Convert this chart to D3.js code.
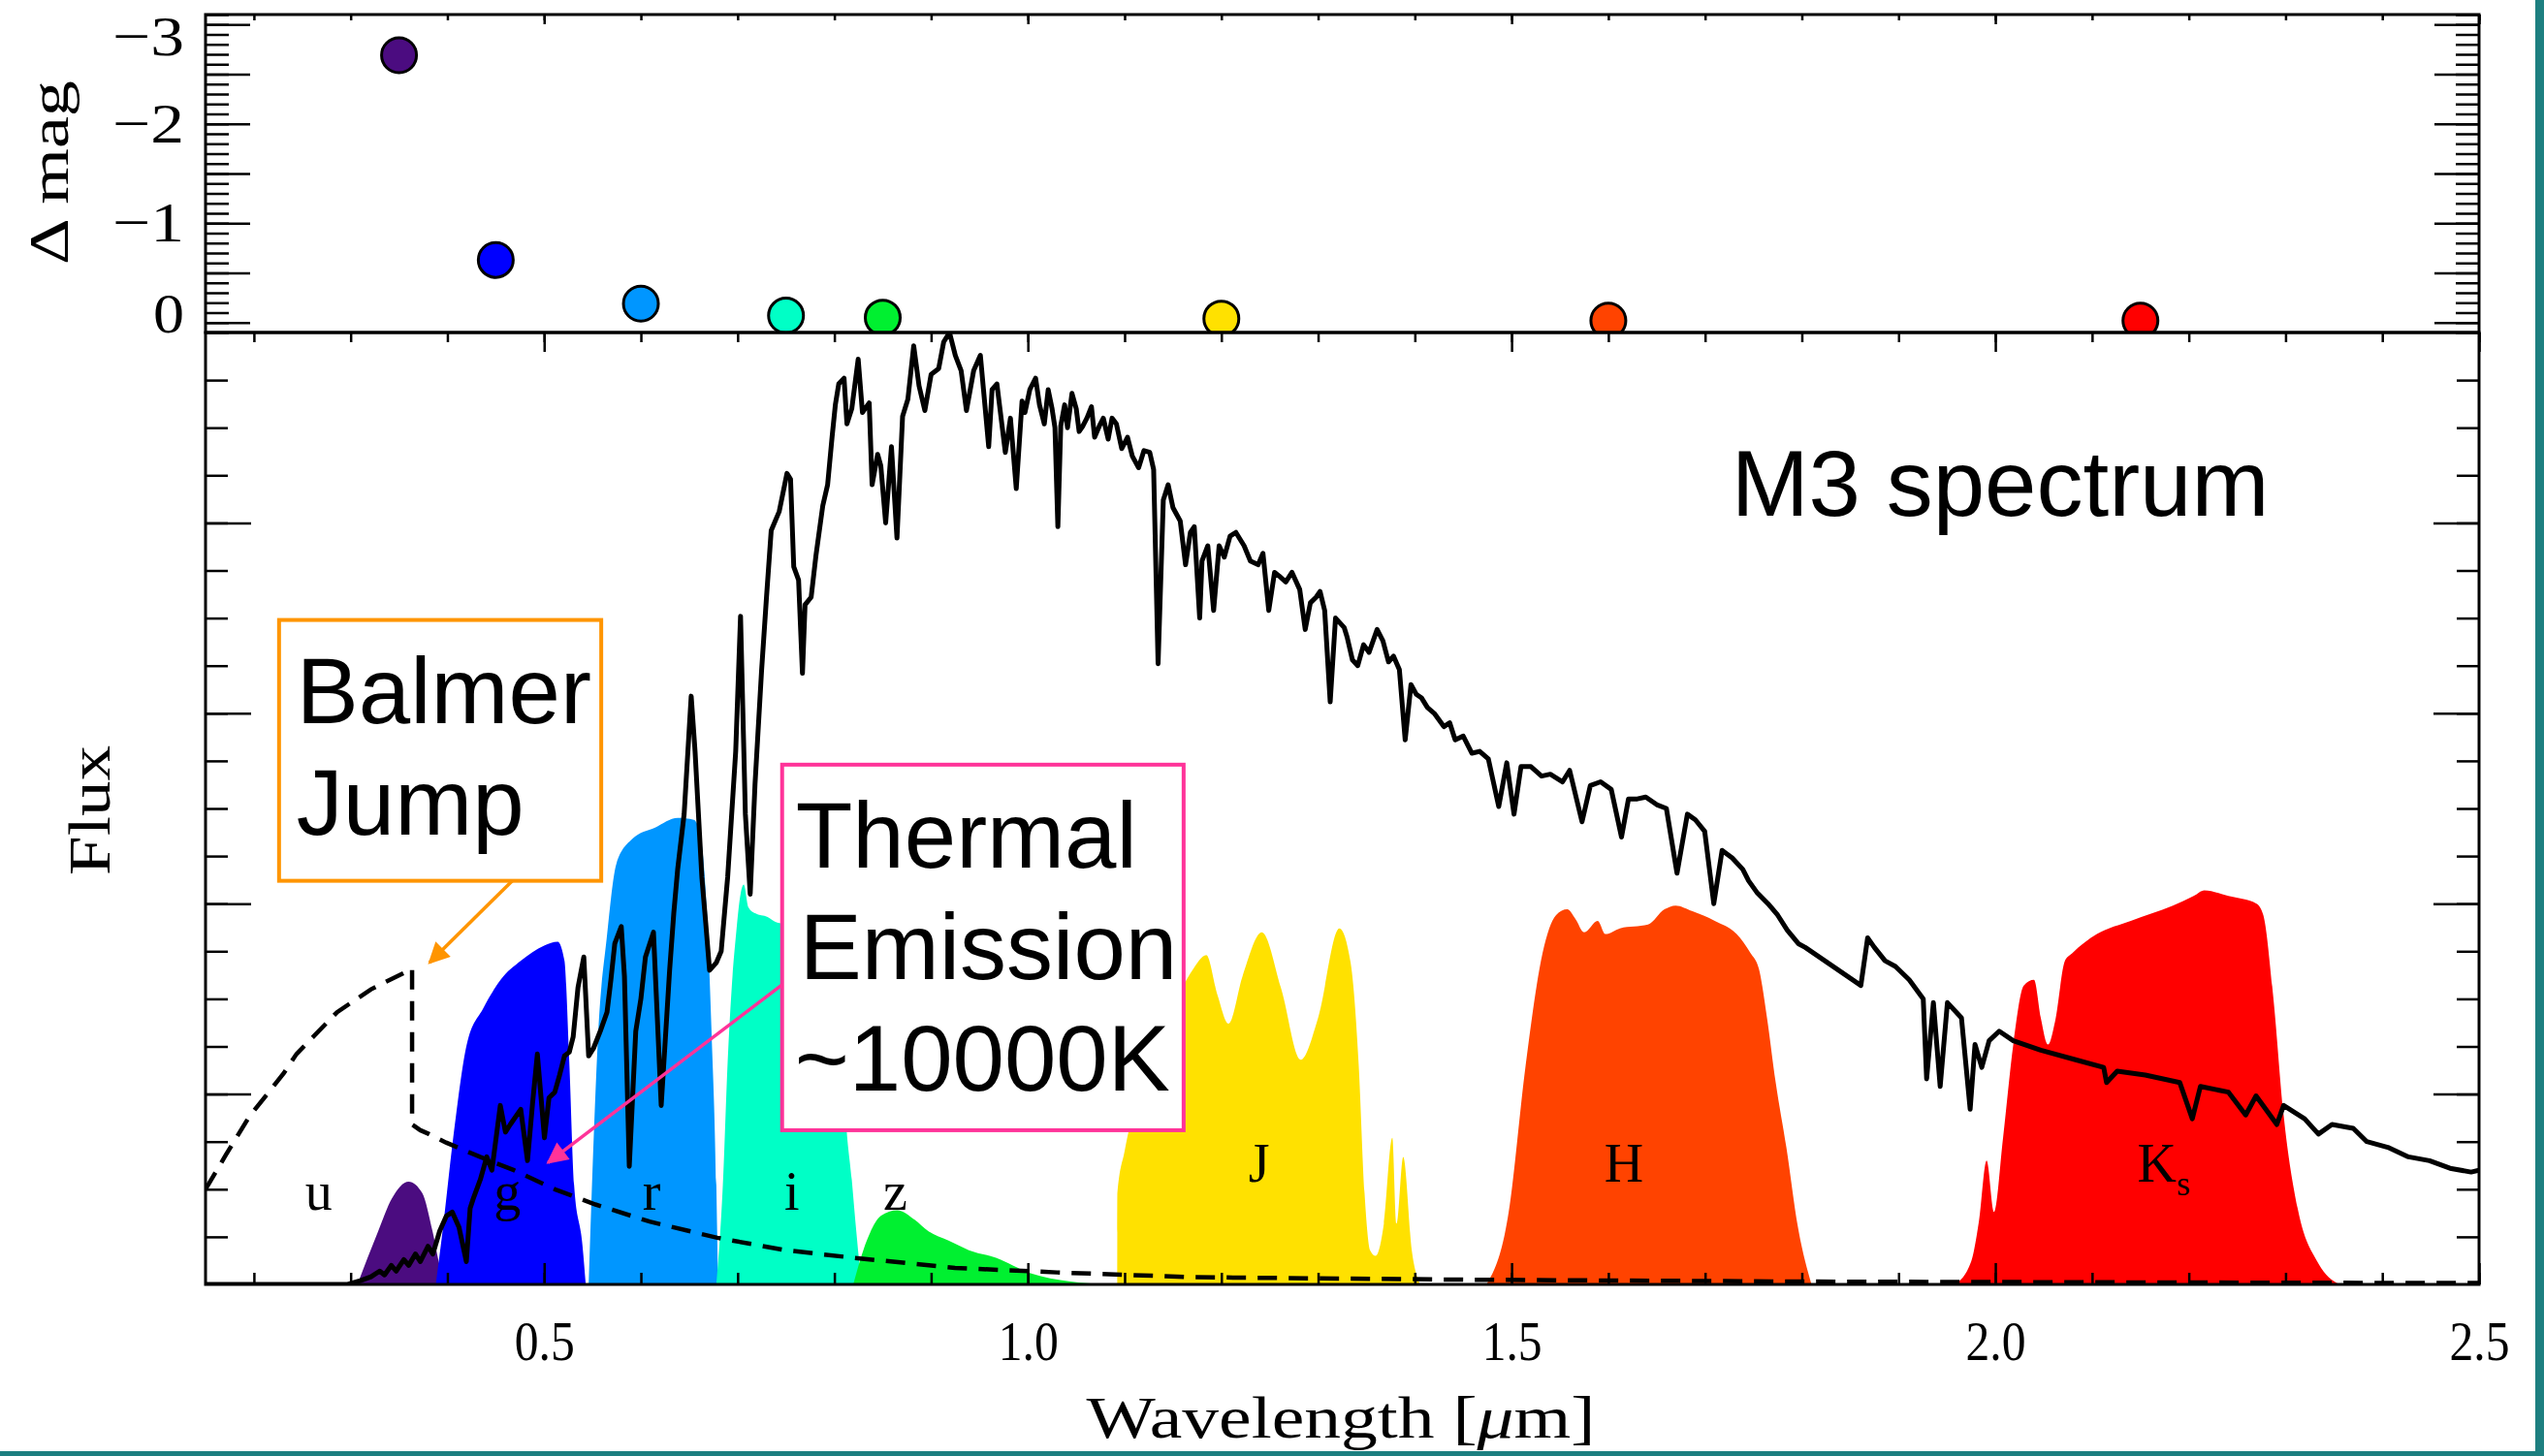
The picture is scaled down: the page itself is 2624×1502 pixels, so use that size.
<!DOCTYPE html>
<html>
<head>
<meta charset="utf-8">
<title>M3 spectrum</title>
<script src="https://d3js.org/d3.v7.min.js"></script>
<style>
  body { margin: 0; background: #fff; }
  svg { display: block; }
</style>
</head>
<body>
<svg class="chart" width="2624" height="1502"></svg>
<script>
// ---- data ----
const bands = ["u", "g", "r", "i", "z", "J", "H", "K"];
const bandColors = ["#4b0c80", "#0000ff", "#0096ff", "#00ffc6", "#00f030", "#ffe100", "#ff4300", "#ff0000"];
const bandWave = [0.35, 0.45, 0.60, 0.75, 0.85, 1.20, 1.60, 2.15];
const deltaMag = [-2.69, -0.63, -0.19, -0.07, -0.05, -0.04, -0.02, -0.02];

// filter transmission curves [wavelength, flux units]
const uCurve = [[0.307,0],[0.3285,0.28],[0.3425,0.45],[0.36,0.54],[0.374,0.48],[0.3846,0.28],[0.392,0.10],[0.40,0]];
const gCurve = [[0.388,0],[0.395,0.28],[0.406,0.77],[0.42,1.26],[0.437,1.45],[0.455,1.60],[0.476,1.70],[0.50,1.78],[0.514,1.80],[0.521,1.70],[0.526,1.17],[0.531,0.52],[0.5397,0.2],[0.543,0]];
const rCurve = [[0.546,0],[0.550,0.6],[0.556,1.33],[0.5647,1.82],[0.5747,2.21],[0.591,2.34],[0.6147,2.40],[0.638,2.45],[0.6547,2.44],[0.661,2.37],[0.668,1.98],[0.673,1.33],[0.678,0.52],[0.6797,0]];
const iCurve = [[0.678,0],[0.6847,0.52],[0.6897,1.17],[0.6947,1.62],[0.698,1.82],[0.703,2.05],[0.7063,2.10],[0.7113,1.98],[0.718,1.95],[0.731,1.93],[0.741,1.90],[0.77,1.88],[0.80,1.84],[0.806,1.6],[0.811,0.95],[0.818,0.55],[0.823,0.26],[0.828,0]];
const zCurve = [[0.8195,0],[0.8335,0.23],[0.848,0.36],[0.865,0.39],[0.883,0.34],[0.897,0.28],[0.918,0.23],[0.939,0.18],[0.967,0.14],[1.002,0.06],[1.044,0.015],[1.086,0]];
const jCurve = [[1.0924,0],[1.0925,0.48],[1.10,0.70],[1.1126,0.98],[1.13,1.21],[1.153,1.49],[1.17,1.65],[1.1844,1.73],[1.196,1.52],[1.2073,1.37],[1.222,1.62],[1.2418,1.85],[1.262,1.55],[1.282,1.18],[1.30,1.40],[1.322,1.87],[1.3336,1.69],[1.342,1.15],[1.348,0.48],[1.3537,0.18],[1.3595,0.15],[1.368,0.32],[1.3767,0.77],[1.381,0.32],[1.388,0.67],[1.3968,0.18],[1.4054,0]];
const hCurve = [[1.474,0],[1.497,0.38],[1.5145,1.15],[1.532,1.74],[1.546,1.94],[1.5575,1.97],[1.566,1.92],[1.575,1.85],[1.589,1.91],[1.597,1.84],[1.612,1.87],[1.641,1.89],[1.658,1.97],[1.6695,1.99],[1.687,1.96],[1.71,1.91],[1.7326,1.84],[1.747,1.74],[1.7555,1.66],[1.764,1.40],[1.773,1.06],[1.784,0.72],[1.796,0.30],[1.81,0]];
const ksCurve = [[1.958,0],[1.975,0.12],[1.983,0.33],[1.991,0.65],[1.9986,0.38],[2.008,0.77],[2.0186,1.26],[2.0294,1.57],[2.04,1.60],[2.047,1.40],[2.0545,1.26],[2.0617,1.38],[2.072,1.70],[2.0796,1.74],[2.105,1.84],[2.14,1.91],[2.1835,1.99],[2.205,2.04],[2.216,2.07],[2.241,2.04],[2.27,2.00],[2.277,1.94],[2.2875,1.50],[2.298,0.89],[2.3125,0.40],[2.334,0.11],[2.3556,0]];
const filterCurves = [uCurve, gCurve, rCurve, iCurve, zCurve, jCurve, hCurve, ksCurve];

const bandLabelWave = [0.267, 0.462, 0.611, 0.756, 0.863, 1.239, 1.616, 2.174];
const bandLabelFlux = [0.39, 0.39, 0.39, 0.39, 0.39, 0.54, 0.54, 0.54];

// M3 star spectrum [wavelength, flux]
const spectrum = [[0.15,0],[0.297,0],[0.310,0.02],[0.321,0.04],[0.33,0.07],[0.335,0.05],[0.342,0.10],[0.347,0.07],[0.355,0.13],[0.36,0.10],[0.367,0.16],[0.372,0.12],[0.38,0.20],[0.385,0.16],[0.392,0.28],[0.399,0.36],[0.405,0.38],[0.412,0.30],[0.4196,0.12],[0.4235,0.40],[0.4267,0.45],[0.434,0.55],[0.4407,0.67],[0.446,0.60],[0.4547,0.94],[0.46,0.80],[0.465,0.84],[0.4758,0.92],[0.4828,0.65],[0.488,0.95],[0.493,1.21],[0.498,0.91],[0.5003,0.77],[0.505,0.98],[0.511,1.01],[0.516,1.10],[0.521,1.20],[0.526,1.22],[0.530,1.30],[0.535,1.56],[0.541,1.72],[0.546,1.20],[0.551,1.24],[0.558,1.33],[0.565,1.43],[0.569,1.60],[0.573,1.79],[0.5797,1.88],[0.583,1.62],[0.588,0.62],[0.5947,1.33],[0.600,1.50],[0.6047,1.72],[0.613,1.85],[0.617,1.40],[0.621,0.94],[0.6297,1.65],[0.634,1.95],[0.638,2.18],[0.6447,2.47],[0.652,3.09],[0.656,2.80],[0.663,2.14],[0.667,1.90],[0.671,1.65],[0.678,1.69],[0.683,1.75],[0.6897,2.14],[0.698,2.80],[0.703,3.51],[0.708,2.47],[0.713,2.05],[0.718,2.63],[0.7247,3.22],[0.7297,3.60],[0.7347,3.96],[0.743,4.06],[0.751,4.26],[0.7547,4.23],[0.758,3.77],[0.763,3.70],[0.767,3.21],[0.7697,3.57],[0.776,3.61],[0.781,3.83],[0.788,4.09],[0.793,4.20],[0.7976,4.45],[0.801,4.62],[0.8045,4.73],[0.81,4.76],[0.813,4.52],[0.818,4.60],[0.8246,4.86],[0.829,4.58],[0.836,4.63],[0.839,4.20],[0.8447,4.36],[0.848,4.30],[0.853,4.00],[0.859,4.40],[0.8647,3.92],[0.8705,4.56],[0.876,4.65],[0.882,4.93],[0.8875,4.72],[0.8935,4.59],[0.90,4.78],[0.9078,4.81],[0.913,4.95],[0.919,5.0],[0.925,4.88],[0.931,4.80],[0.9365,4.59],[0.944,4.80],[0.9509,4.88],[0.9595,4.40],[0.963,4.70],[0.968,4.73],[0.9767,4.37],[0.982,4.55],[0.988,4.18],[0.994,4.64],[0.997,4.58],[1.002,4.70],[1.008,4.76],[1.012,4.62],[1.017,4.52],[1.021,4.70],[1.025,4.60],[1.028,4.50],[1.031,3.98],[1.034,4.51],[1.038,4.62],[1.041,4.50],[1.0456,4.68],[1.05,4.60],[1.053,4.48],[1.057,4.51],[1.061,4.55],[1.0657,4.61],[1.069,4.45],[1.074,4.51],[1.078,4.55],[1.083,4.44],[1.087,4.55],[1.0915,4.52],[1.097,4.39],[1.103,4.45],[1.108,4.35],[1.1145,4.29],[1.12,4.38],[1.126,4.37],[1.13,4.28],[1.1346,3.26],[1.14,4.12],[1.145,4.20],[1.15,4.08],[1.1575,4.01],[1.163,3.78],[1.168,3.95],[1.172,3.98],[1.1776,3.50],[1.18,3.80],[1.186,3.88],[1.192,3.54],[1.1977,3.88],[1.203,3.82],[1.209,3.93],[1.215,3.95],[1.2235,3.88],[1.23,3.80],[1.238,3.78],[1.243,3.84],[1.249,3.54],[1.255,3.74],[1.26,3.72],[1.2666,3.69],[1.273,3.74],[1.281,3.65],[1.2867,3.44],[1.292,3.58],[1.298,3.61],[1.302,3.64],[1.3068,3.54],[1.3125,3.06],[1.318,3.50],[1.327,3.45],[1.33,3.40],[1.3355,3.28],[1.341,3.25],[1.347,3.36],[1.3527,3.32],[1.361,3.44],[1.367,3.38],[1.3728,3.27],[1.378,3.30],[1.384,3.23],[1.39,2.86],[1.396,3.15],[1.4015,3.10],[1.407,3.08],[1.413,3.03],[1.42,3.00],[1.43,2.93],[1.436,2.95],[1.4417,2.86],[1.45,2.88],[1.459,2.79],[1.467,2.80],[1.476,2.76],[1.4867,2.51],[1.495,2.74],[1.5025,2.47],[1.5097,2.72],[1.52,2.72],[1.531,2.67],[1.54,2.68],[1.5527,2.64],[1.56,2.70],[1.5728,2.43],[1.5814,2.62],[1.592,2.64],[1.603,2.60],[1.6136,2.35],[1.6208,2.55],[1.63,2.55],[1.6387,2.56],[1.65,2.52],[1.66,2.50],[1.671,2.16],[1.6817,2.47],[1.69,2.44],[1.6996,2.38],[1.709,2.00],[1.7176,2.28],[1.728,2.24],[1.739,2.18],[1.745,2.12],[1.7534,2.06],[1.765,2.00],[1.775,1.94],[1.785,1.86],[1.7964,1.79],[1.8036,1.77],[1.861,1.57],[1.868,1.82],[1.875,1.77],[1.886,1.70],[1.8968,1.67],[1.911,1.60],[1.9255,1.50],[1.929,1.08],[1.936,1.48],[1.943,1.04],[1.9505,1.48],[1.965,1.40],[1.974,0.92],[1.979,1.26],[1.986,1.14],[1.9936,1.28],[2.004,1.33],[2.0186,1.28],[2.047,1.23],[2.083,1.18],[2.112,1.14],[2.115,1.06],[2.126,1.12],[2.155,1.10],[2.1907,1.06],[2.2036,0.87],[2.212,1.04],[2.241,1.01],[2.2588,0.89],[2.2695,0.99],[2.291,0.84],[2.298,0.94],[2.3197,0.87],[2.334,0.79],[2.348,0.84],[2.37,0.82],[2.384,0.75],[2.4057,0.72],[2.427,0.67],[2.4488,0.65],[2.47,0.61],[2.4918,0.59],[2.5,0.60]];

// 10000K thermal emission with Balmer jump (dashed)
const thermal = [[0.15,0.50],[0.171,0.68],[0.195,0.88],[0.231,1.11],[0.244,1.21],[0.286,1.43],[0.321,1.55],[0.3565,1.64],[0.3635,1.66],[0.3635,0.84],[0.372,0.81],[0.381,0.79],[0.3986,0.745],[0.4337,0.67],[0.4688,0.60],[0.511,0.50],[0.553,0.42],[0.609,0.33],[0.679,0.245],[0.749,0.18],[0.8195,0.14],[0.9247,0.087],[1.03,0.063],[1.17,0.038],[1.45,0.025],[1.8,0.015],[2.2,0.01],[2.5,0.007]];

const xTickLabels = [0.5, 1.0, 1.5, 2.0, 2.5];
const magTicks = [-3, -2, -1, 0];
const magTickLabels = ["\u22123", "\u22122", "\u22121", "0"];

// ---- layout ----
const svg = d3.select("svg.chart"),
    W = +svg.attr("width"),
    H = +svg.attr("height");
const xL = 212, xR = 2557, yT = 15, yM = 343, yB = 1325;
const serif = "'Liberation Serif', 'DejaVu Serif', serif";
const sans = "'Liberation Sans', Arial, sans-serif";

const x = d3.scaleLinear().domain([0.15, 2.5]).range([xL, xR]);
const yMag = d3.scaleLinear().domain([0.1, -3.1]).range([yM, yT]);
const yFlux = d3.scaleLinear().domain([0, 5]).range([yB, yM]);

svg.append("rect").attr("width", W).attr("height", H).attr("fill", "#fff");

const defs = svg.append("defs");
defs.append("clipPath").attr("id", "clipTop").append("rect")
    .attr("x", xL).attr("y", yT).attr("width", xR - xL).attr("height", yM - yT);
defs.append("clipPath").attr("id", "clipMain").append("rect")
    .attr("x", xL).attr("y", yM).attr("width", xR - xL).attr("height", yB - yM);

// arrow heads
function arrowHead(id, color) {
    defs.append("marker").attr("id", id)
        .attr("viewBox", "0 0 10 10").attr("refX", 9).attr("refY", 5)
        .attr("markerWidth", 30).attr("markerHeight", 22)
        .attr("markerUnits", "userSpaceOnUse").attr("orient", "auto")
        .append("path").attr("d", "M0,0 L10,5 L0,10 z").attr("fill", color);
}
arrowHead("headOrange", "#ff9500");
arrowHead("headPink", "#ff3399");

// ---- main panel ----
const main = svg.append("g").attr("clip-path", "url(#clipMain)");
const area = d3.area().curve(d3.curveMonotoneX)
    .x(d => x(d[0])).y0(yFlux(0)).y1(d => yFlux(d[1]));
const line = d3.line().x(d => x(d[0])).y(d => yFlux(d[1]));

filterCurves.forEach((c, i) => {
    main.append("path").datum(c).attr("fill", bandColors[i]).attr("d", area);
});

main.append("path").datum(thermal)
    .attr("fill", "none").attr("stroke", "#000").attr("stroke-width", 4.5)
    .attr("stroke-dasharray", "20 12").attr("d", line);

main.append("path").datum(spectrum)
    .attr("fill", "none").attr("stroke", "#000").attr("stroke-width", 5)
    .attr("stroke-linejoin", "round").attr("d", line);

// band letters
const bl = svg.append("g").attr("font-family", serif).attr("font-size", 56).attr("text-anchor", "middle");
bands.forEach((b, i) => {
    const t = bl.append("text").attr("x", x(bandLabelWave[i])).attr("y", yFlux(bandLabelFlux[i])).text(b);
    if (b === "K") t.append("tspan").attr("font-size", 36).attr("dy", 14).text("s");
});

// ---- top panel ----
const topG = svg.append("g").attr("clip-path", "url(#clipTop)");
topG.selectAll("circle").data(bands).enter().append("circle")
    .attr("cx", (d, i) => x(bandWave[i]))
    .attr("cy", (d, i) => yMag(deltaMag[i]))
    .attr("r", 18)
    .attr("fill", (d, i) => bandColors[i])
    .attr("stroke", "#000").attr("stroke-width", 3);

// ---- ticks ----
const minorX = d3.range(2, 26).map(d => d / 10);
const majorX = d3.range(1, 6).map(d => d / 2);
const minorMag = d3.range(-31, 2).map(d => d / 10);
const majorMag = d3.range(-6, 1).map(d => d / 2);
const minorFlux = d3.range(1, 20).map(d => d / 4);
const majorFlux = [1, 2, 3, 4];

function ticks(axis, tx, ty) {
    const g = svg.append("g").attr("transform", `translate(${tx},${ty})`).call(axis);
    g.select(".domain").remove();
    g.selectAll("line").attr("stroke", "#000").attr("stroke-width", 2.5);
}
ticks(d3.axisTop(x).tickValues(minorX).tickSize(-6).tickFormat(""), 0, yT);
ticks(d3.axisTop(x).tickValues(majorX).tickSize(-10).tickFormat(""), 0, yT);
ticks(d3.axisBottom(x).tickValues(minorX).tickSize(10).tickFormat(""), 0, yM);
ticks(d3.axisBottom(x).tickValues(majorX).tickSize(20).tickFormat(""), 0, yM);
ticks(d3.axisBottom(x).tickValues(minorX).tickSize(-12).tickFormat(""), 0, yB);
ticks(d3.axisBottom(x).tickValues(majorX).tickSize(-22).tickFormat(""), 0, yB);

ticks(d3.axisLeft(yMag).tickValues(minorMag).tickSize(-24).tickFormat(""), xL, 0);
ticks(d3.axisLeft(yMag).tickValues(majorMag).tickSize(-46).tickFormat(""), xL, 0);
ticks(d3.axisRight(yMag).tickValues(minorMag).tickSize(-24).tickFormat(""), xR, 0);
ticks(d3.axisRight(yMag).tickValues(majorMag).tickSize(-46).tickFormat(""), xR, 0);

ticks(d3.axisLeft(yFlux).tickValues(minorFlux).tickSize(-23).tickFormat(""), xL, 0);
ticks(d3.axisLeft(yFlux).tickValues(majorFlux).tickSize(-47).tickFormat(""), xL, 0);
ticks(d3.axisRight(yFlux).tickValues(minorFlux).tickSize(-23).tickFormat(""), xR, 0);
ticks(d3.axisRight(yFlux).tickValues(majorFlux).tickSize(-47).tickFormat(""), xR, 0);

// frames
svg.append("rect").attr("x", xL).attr("y", yT).attr("width", xR - xL).attr("height", yM - yT)
    .attr("fill", "none").attr("stroke", "#000").attr("stroke-width", 3);
svg.append("rect").attr("x", xL).attr("y", yM).attr("width", xR - xL).attr("height", yB - yM)
    .attr("fill", "none").attr("stroke", "#000").attr("stroke-width", 3);

// tick labels
const xl = svg.append("g").attr("transform", `translate(0,${yB})`)
    .call(d3.axisBottom(x).tickValues(xTickLabels).tickSize(0).tickFormat(d3.format(".1f")));
xl.select(".domain").remove();
xl.attr("font-family", serif).attr("font-size", 58);
xl.selectAll("text").attr("y", 78).attr("dy", null).attr("fill", "#000")
    .attr("textLength", 62).attr("lengthAdjust", "spacingAndGlyphs");

svg.append("g").attr("font-family", serif).attr("font-size", 58).attr("text-anchor", "end")
    .selectAll("text").data(magTicks).enter().append("text")
    .attr("x", 190)
    .attr("y", d => Math.max(yT + 42, Math.min(yM, yMag(d) + 19)))
    .attr("textLength", (d, i) => magTickLabels[i].length > 1 ? 74 : 32)
    .attr("lengthAdjust", "spacingAndGlyphs")
    .text((d, i) => magTickLabels[i]);

// axis titles
svg.append("text").attr("transform", "translate(70,178) rotate(-90)")
    .attr("text-anchor", "middle").attr("font-family", serif).attr("font-size", 58)
    .attr("textLength", 190).attr("lengthAdjust", "spacingAndGlyphs")
    .text("\u0394 mag");
svg.append("text").attr("transform", "translate(113,836) rotate(-90)")
    .attr("text-anchor", "middle").attr("font-family", serif).attr("font-size", 62)
    .attr("textLength", 134).attr("lengthAdjust", "spacingAndGlyphs")
    .text("Flux");
const xt = svg.append("text").attr("x", 1383).attr("y", 1483)
    .attr("text-anchor", "middle").attr("font-family", serif).attr("font-size", 62)
    .attr("textLength", 525).attr("lengthAdjust", "spacingAndGlyphs");
xt.append("tspan").text("Wavelength [");
xt.append("tspan").attr("font-style", "italic").text("\u03bc");
xt.append("tspan").text("m]");

// ---- annotations ----
svg.append("text").attr("x", x(1.727)).attr("y", yFlux(4.04))
    .attr("font-family", sans).attr("font-size", 96).text("M3 spectrum");

function box(x0, x1, f0, f1, color, lines, dxs) {
    const bx = x(x0), by = yFlux(f0);
    svg.append("rect").attr("x", bx).attr("y", by)
        .attr("width", x(x1) - bx).attr("height", yFlux(f1) - by)
        .attr("fill", "#fff").attr("stroke", color).attr("stroke-width", 4);
    lines.forEach((t, i) => {
        svg.append("text").attr("x", bx + dxs[i]).attr("y", by + 106 + i * 115)
            .attr("font-family", sans).attr("font-size", 96).attr("fill", "#000").text(t);
    });
}
function arrow(a, b, color, head) {
    svg.append("line")
        .attr("x1", x(a[0])).attr("y1", yFlux(a[1]))
        .attr("x2", x(b[0])).attr("y2", yFlux(b[1]))
        .attr("stroke", color).attr("stroke-width", 3.5)
        .attr("marker-end", `url(#${head})`);
}

box(0.226, 0.559, 3.49, 2.12, "#ff9500", ["Balmer", "Jump"], [18, 18]);
arrow([0.467, 2.12], [0.3815, 1.69], "#ff9500", "headOrange");

arrow([0.745, 1.57], [0.504, 0.64], "#ff3399", "headPink");
box(0.746, 1.161, 2.73, 0.81, "#ff3399", ["Thermal", "Emission", "~10000K"], [14, 18, 13]);

// slide edge
svg.append("rect").attr("x", 2615).attr("y", 0).attr("width", W - 2615).attr("height", H).attr("fill", "#1d7f80");
svg.append("rect").attr("x", 0).attr("y", 1497).attr("width", W).attr("height", H - 1497).attr("fill", "#1d7f80");
</script>
</body>
</html>
